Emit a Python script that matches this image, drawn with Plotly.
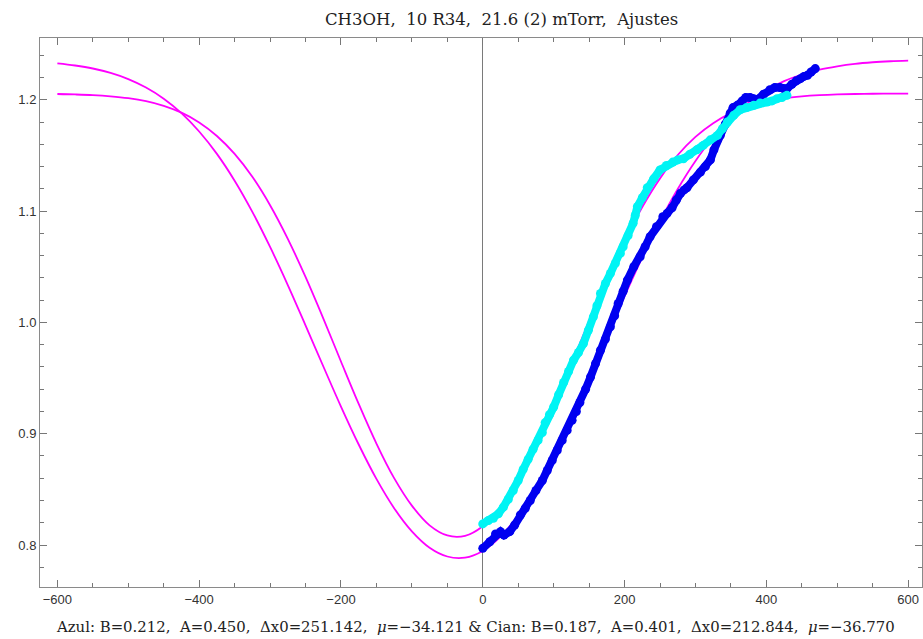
import plotly.graph_objects as go

# ---- data ----
fit_x = [-600, -575, -550, -525, -500, -475, -450, -425, -400, -375, -350, -325, -300,
         -275, -250, -225, -200, -175, -150, -125, -100, -75, -50, -25, 0,
         25, 50, 75, 100, 125, 150, 175, 200, 225, 250, 275, 300, 325, 350,
         375, 400, 425, 450, 475, 500, 525, 550, 575, 600]
fit_azul_y = [1.2327, 1.2308, 1.2281, 1.2241, 1.2186, 1.2110, 1.2010, 1.1880, 1.1715,
              1.1514, 1.1273, 1.0993, 1.0678, 1.0336, 0.9974, 0.9606, 0.9244, 0.8903,
              0.8594, 0.8331, 0.8123, 0.7976, 0.7897, 0.7887, 0.7947, 0.8075, 0.8267,
              0.8516, 0.8813, 0.9146, 0.9503, 0.9871, 1.0236, 1.0585, 1.0908, 1.1198,
              1.1450, 1.1663, 1.1837, 1.1977, 1.2085, 1.2167, 1.2227, 1.2271, 1.2301,
              1.2323, 1.2337, 1.2346, 1.2352]
fit_cian_y = [1.2052, 1.2048, 1.2042, 1.2031, 1.2014, 1.1987, 1.1945, 1.1884, 1.1797,
              1.1675, 1.1514, 1.1308, 1.1053, 1.0751, 1.0408, 1.0036, 0.9649, 0.9268,
              0.8912, 0.8601, 0.8354, 0.8177, 0.8086, 0.8083, 0.8169, 0.8339, 0.8585,
              0.8893, 0.9247, 0.9626, 1.0013, 1.0387, 1.0732, 1.1037, 1.1294, 1.1504,
              1.1667, 1.1790, 1.1880, 1.1942, 1.1985, 1.2013, 1.2030, 1.2041, 1.2048,
              1.2052, 1.2054, 1.2055, 1.2056]

blue_x = [0, 10, 18, 25, 30, 38, 45, 53, 60, 67, 75, 84, 91, 98, 105, 112, 119, 126, 132, 137,
          145, 152, 159, 166, 173, 180, 186, 191, 198, 204, 213, 222, 229, 236, 245, 254, 260,
          267, 273, 279, 284, 288, 297, 307, 314, 321, 326, 331, 335, 342, 349, 353, 359, 366,
          371, 377, 382, 387, 396, 405, 412, 419, 424, 429, 436, 442, 448, 453, 458, 463, 469]
blue_y = [0.797, 0.803, 0.810, 0.812, 0.809, 0.812, 0.818, 0.827, 0.833, 0.840, 0.849, 0.858,
          0.867, 0.876, 0.885, 0.894, 0.903, 0.912, 0.920, 0.928, 0.940, 0.951, 0.963, 0.975,
          0.985, 0.996, 1.006, 1.017, 1.028, 1.038, 1.050, 1.059, 1.068, 1.077, 1.086, 1.095,
          1.098, 1.103, 1.110, 1.116, 1.119, 1.121, 1.128, 1.135, 1.140, 1.146, 1.155, 1.164,
          1.168, 1.178, 1.188, 1.193, 1.195, 1.199, 1.202, 1.202, 1.201, 1.200, 1.205, 1.209,
          1.211, 1.211, 1.210, 1.210, 1.214, 1.217, 1.219, 1.221, 1.222, 1.225, 1.228]

cyan_x = [0, 8, 15, 22, 29, 36, 43, 50, 57, 64, 71, 78, 84, 88, 94, 100, 107, 114, 121, 128,
          135, 142, 149, 156, 161, 166, 173, 180, 187, 194, 198, 205, 212, 215, 218, 225, 232,
          241, 250, 259, 268, 275, 283, 292, 302, 311, 321, 331, 338, 345, 354, 363, 372, 382,
          391, 401, 408, 415, 422, 429]
cyan_y = [0.819, 0.822, 0.824, 0.828, 0.834, 0.841, 0.849, 0.858, 0.868, 0.877, 0.886, 0.894,
          0.901, 0.910, 0.917, 0.924, 0.935, 0.946, 0.956, 0.966, 0.973, 0.981, 0.993, 1.005,
          1.015, 1.026, 1.035, 1.044, 1.053, 1.062, 1.068, 1.078, 1.089, 1.096, 1.104, 1.112,
          1.121, 1.129, 1.137, 1.141, 1.144, 1.146, 1.147, 1.151, 1.155, 1.159, 1.164, 1.168,
          1.174, 1.180, 1.186, 1.191, 1.193, 1.195, 1.197, 1.198, 1.199, 1.201, 1.202, 1.204]

title_text = "CH3OH,  10 R34,  21.6 (2) mTorr,  Ajustes"
footer_text = ("Azul: B=0.212,  A=0.450,  \u0394x0=251.142,  <i>\u03bc</i>=\u221234.121 & "
               "Cian: B=0.187,  A=0.401,  \u0394x0=212.844,  <i>\u03bc</i>=\u221236.770")

# ---- figure ----
fig = go.Figure()
fig.add_trace(go.Scatter(x=fit_x, y=fit_azul_y, mode="lines", line=dict(color="#ff00ff", width=1.8, shape="spline"),
                         showlegend=False, hoverinfo="skip"))
fig.add_trace(go.Scatter(x=fit_x, y=fit_cian_y, mode="lines", line=dict(color="#ff00ff", width=1.8, shape="spline"),
                         showlegend=False, hoverinfo="skip"))
fig.add_trace(go.Scatter(x=blue_x, y=blue_y, mode="lines+markers",
                         line=dict(color="#0000f0", width=8),
                         marker=dict(color="#0000f0", size=9),
                         showlegend=False))
fig.add_trace(go.Scatter(x=cyan_x, y=cyan_y, mode="lines+markers",
                         line=dict(color="#00f4f4", width=8),
                         marker=dict(color="#00f4f4", size=9),
                         showlegend=False))

tick_col = "#777777"
axis_common = dict(showgrid=False, ticks="inside", mirror="ticks", showline=True,
                   linecolor="#8a8a8a", linewidth=1, tickcolor=tick_col,
                   tickfont=dict(family="Liberation Sans, Arial, sans-serif", size=13, color="#333333"))

fig.update_xaxes(range=[-624.5, 619.5], tickmode="linear", tick0=0, dtick=200, ticklen=7, tickwidth=1,
                 minor=dict(dtick=50, tick0=0, ticks="inside", ticklen=4, tickcolor=tick_col, tickwidth=1,
                            showgrid=False),
                 zeroline=True, zerolinecolor="#7a7a7a", zerolinewidth=1,
                 **axis_common)
fig.update_yaxes(range=[0.7623, 1.2555], tickmode="linear", tick0=0.8, dtick=0.1, tickformat=".1f",
                 ticklen=7, tickwidth=1,
                 minor=dict(dtick=0.02, tick0=0.8, ticks="inside", ticklen=4, tickcolor=tick_col, tickwidth=1,
                            showgrid=False),
                 zeroline=False,
                 **axis_common)

fig.add_annotation(text=title_text, xref="paper", yref="paper", x=0.5227, y=1.0, yshift=19,
                   showarrow=False, xanchor="center", yanchor="middle",
                   font=dict(family="DejaVu Serif, Liberation Serif, serif", size=16.5, color="#222222"))
fig.add_annotation(text=footer_text, xref="paper", yref="paper", x=0.494, y=0.0, yshift=-40,
                   showarrow=False, xanchor="center", yanchor="middle",
                   font=dict(family="DejaVu Serif, Liberation Serif, serif", size=14.9, color="#222222"))

fig.update_layout(width=923, height=639, autosize=False,
                  margin=dict(l=40, r=1, t=38, b=52),
                  paper_bgcolor="white", plot_bgcolor="white")

fig.write_html("out.html")
